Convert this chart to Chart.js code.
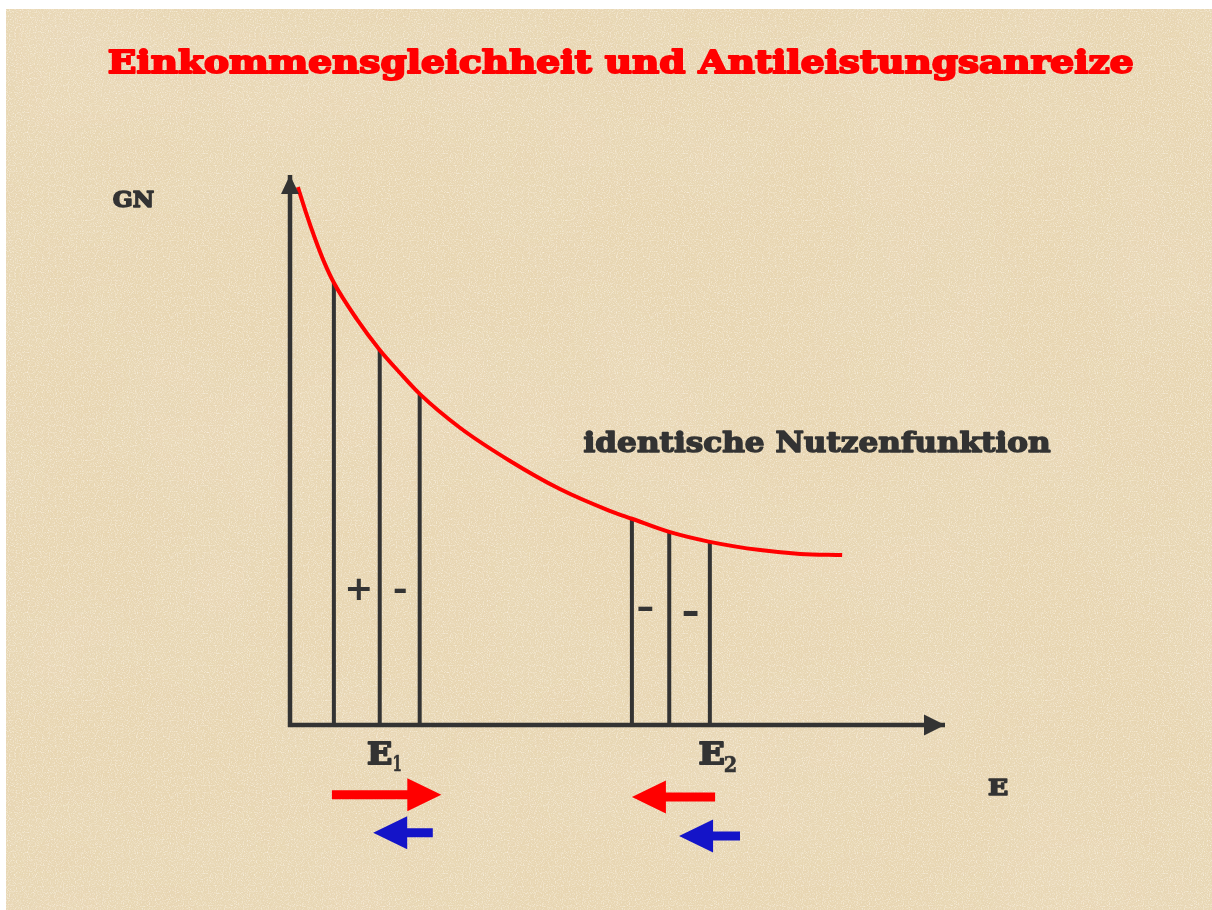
<!DOCTYPE html>
<html><head><meta charset="utf-8">
<script src="https://cdn.jsdelivr.net/npm/chart.js@4/dist/chart.umd.min.js"></script>
<style>
html,body{margin:0;padding:0;background:#fff;width:1212px;height:910px;overflow:hidden}
#bg{position:absolute;left:6px;top:9px;right:0;bottom:0;background-color:#e8d6b2;
background-image:
 url("data:image/svg+xml;utf8,<svg xmlns='http://www.w3.org/2000/svg' width='240' height='240'><filter id='n'><feTurbulence type='fractalNoise' baseFrequency='0.85' numOctaves='2' seed='3' stitchTiles='stitch'/><feColorMatrix values='0 0 0 0 1  0 0 0 0 0.96  0 0 0 0 0.88  1.6 0 0 0 -0.75'/></filter><rect width='240' height='240' filter='url(%23n)'/></svg>"),
 url("data:image/svg+xml;utf8,<svg xmlns='http://www.w3.org/2000/svg' width='240' height='240'><filter id='m'><feTurbulence type='fractalNoise' baseFrequency='0.7' numOctaves='2' seed='8' stitchTiles='stitch'/><feColorMatrix values='0 0 0 0 0.78  0 0 0 0 0.66  0 0 0 0 0.46  1.4 0 0 0 -0.7'/></filter><rect width='240' height='240' filter='url(%23m)'/></svg>"),
 url("data:image/svg+xml;utf8,<svg xmlns='http://www.w3.org/2000/svg' width='1206' height='901'><filter id='b'><feTurbulence type='fractalNoise' baseFrequency='0.006' numOctaves='3' seed='5'/><feColorMatrix values='0 0 0 0 0.82  0 0 0 0 0.7  0 0 0 0 0.5  1.2 0 0 0 -0.45'/></filter><rect width='1206' height='901' filter='url(%23b)'/></svg>");}
#c{position:absolute;left:0;top:0}
</style></head>
<body><div id="bg"></div><canvas id="c" width="1212" height="910"></canvas>
<script>
// ---- data (E = income on x axis, GN = marginal utility on y axis) ----
const curveE  = [1.2, 2.4, 3.8, 5.2, 6.7, 10.2, 13.7, 16.8, 19.8, 26.0, 33.6, 41.2, 48.9, 52.2, 57.9, 64.1, 71.8, 77.9, 84.3];
const curveGN = [97.8, 93.3, 88.5, 84.2, 80.4, 73.8, 68.2, 64.0, 60.2, 54.0, 48.0, 42.9, 38.9, 37.5, 35.1, 33.3, 31.8, 31.1, 30.9];
const stripE  = [6.7, 13.7, 19.8, 52.2, 57.9, 64.1];
const stripGN = [80.4, 68.2, 60.2, 37.5, 35.1, 33.3];
const signText = ['+', '-', '-', '-'];
const signE    = [10.5, 16.8, 54.2, 61.1];
const signGN   = [24.8, 24.5, 21.1, 20.5];
const arrowFromE = [6.4, 21.8, 64.9, 68.7];
const arrowToE   = [23.1, 12.7, 52.2, 59.4];
const arrowGN    = [-12.7, -19.6, -13.1, -20.2];
const arrowColors = ['#ff0000', '#1414c8', '#ff0000', '#1414c8'];
const titleText = 'Einkommensgleichheit und Antileistungsanreize';
const curveLabel = 'identische Nutzenfunktion';

const INK = '#333333';
const SERIF = '"DejaVu Serif", "Liberation Serif", serif';
const SANS = '"DejaVu Sans", "Liberation Sans", sans-serif';

// text labels placed in data units (ink left / baseline), with target ink widths
const labels = [
  {text:'GN', e:-27.2, gn:94.2, size:23, w:43, sw:1.6},
  {text:'E', e:106.6, gn:-12.7, size:23, w:20, sw:1.6},
  {text:'E', e:11.8, gn:-7.1, size:30, w:25, sw:1.8},
  {text:'1', e:15.8, gn:-8.4, size:22, w:8, sw:0.6},
  {text:'E', e:62.4, gn:-7.1, size:30, w:26, sw:1.8},
  {text:'2', e:66.3, gn:-8.5, size:22, w:12, sw:0.6},
  {text:curveLabel, e:44.7, gn:49.6, size:27, w:469, sw:1.5}
];
const signSize = [[22,23],[12,5],[15,5],[15,6]];

const datasets = [];
datasets.push({
  label:'Nutzenfunktion',
  data: curveE.map((e,i)=>({x:e, y:curveGN[i]})),
  borderColor:'#ff0000', borderWidth:4, pointRadius:0,
  cubicInterpolationMode:'monotone', clip:false, order:0
});
stripE.forEach((e,i)=>{
  datasets.push({
    label:'E'+i,
    data:[{x:e,y:0},{x:e,y:stripGN[i]}],
    borderColor:INK, borderWidth:4, pointRadius:0, clip:false, order:1
  });
});
datasets.push({
  label:'Achsen',
  data:[{x:0,y:100},{x:0,y:0},{x:100,y:0}],
  borderColor:INK, borderWidth:4.5, pointRadius:0, clip:false, order:1
});

function drawArrow(ctx, x1, x2, y, color, headLen, headH, shaft){
  const dir = Math.sign(x2 - x1);
  const base = x2 - dir*headLen;
  ctx.beginPath();
  ctx.moveTo(x1, y - shaft/2);
  ctx.lineTo(base, y - shaft/2);
  ctx.lineTo(base, y - headH/2);
  ctx.lineTo(x2, y);
  ctx.lineTo(base, y + headH/2);
  ctx.lineTo(base, y + shaft/2);
  ctx.lineTo(x1, y + shaft/2);
  ctx.closePath();
  ctx.fillStyle = color;
  ctx.fill();
}

function drawFitText(ctx, text, font, left, baseline, w, color, sw){
  ctx.font = font;
  ctx.textAlign = 'left';
  ctx.textBaseline = 'alphabetic';
  const m = ctx.measureText(text);
  const ink = m.actualBoundingBoxLeft + m.actualBoundingBoxRight;
  const sx = (w - sw) / ink;
  ctx.save();
  ctx.translate(left + sw/2, baseline);
  ctx.scale(sx, 1);
  ctx.fillStyle = color;
  ctx.strokeStyle = color;
  ctx.lineWidth = sw;
  ctx.lineJoin = 'round';
  ctx.fillText(text, m.actualBoundingBoxLeft, 0);
  if (sw > 0) ctx.strokeText(text, m.actualBoundingBoxLeft, 0);
  ctx.restore();
}

function drawCenterText(ctx, text, font, cx, cy, w, h, color){
  ctx.font = font;
  ctx.textAlign = 'left';
  ctx.textBaseline = 'alphabetic';
  const m = ctx.measureText(text);
  const L = m.actualBoundingBoxLeft, R = m.actualBoundingBoxRight;
  const A = m.actualBoundingBoxAscent, D = m.actualBoundingBoxDescent;
  ctx.save();
  ctx.translate(cx, cy);
  ctx.scale(w/(L+R), h/(A+D));
  ctx.fillStyle = color;
  ctx.fillText(text, -(R-L)/2, -(D-A)/2);
  ctx.restore();
}

const decor = {
  id:'decor',
  afterDatasetsDraw(chart){
    const ctx = chart.ctx, xs = chart.scales.x, ys = chart.scales.y;
    const X = v => xs.getPixelForValue(v), Y = v => ys.getPixelForValue(v);
    ctx.save();
    // axis arrowheads
    ctx.fillStyle = INK;
    const ox = X(0), ty = Y(100);
    ctx.beginPath(); ctx.moveTo(ox, ty); ctx.lineTo(ox-9, ty+19); ctx.lineTo(ox+9, ty+19); ctx.closePath(); ctx.fill();
    const tx = X(100), oy = Y(0);
    ctx.beginPath(); ctx.moveTo(tx, oy); ctx.lineTo(tx-21, oy-10.5); ctx.lineTo(tx-21, oy+10.5); ctx.closePath(); ctx.fill();
    // movement arrows
    arrowFromE.forEach((e,i)=>drawArrow(ctx, X(e), X(arrowToE[i]), Y(arrowGN[i]), arrowColors[i], 34, 33, 9));
    // signs in strips
    signText.forEach((s,i)=>drawCenterText(ctx, s, 'bold 30px '+SANS, X(signE[i]), Y(signGN[i]), signSize[i][0], signSize[i][1], INK));
    // labels
    labels.forEach(l=>drawFitText(ctx, l.text, 'bold '+l.size+'px '+SERIF, X(l.e), Y(l.gn), l.w, INK, l.sw));
    // title
    drawFitText(ctx, titleText, 'bold 32px '+SERIF, 108, 73, 1025, '#ff0000', 2);
    ctx.restore();
  }
};

new Chart(document.getElementById('c'), {
  type:'line',
  data:{datasets},
  options:{
    responsive:false, animation:false,
    layout:{padding:{left:290, right:267, top:175, bottom:185}},
    scales:{
      x:{type:'linear', min:0, max:100, display:false},
      y:{type:'linear', min:0, max:100, display:false}
    },
    plugins:{legend:{display:false}, tooltip:{enabled:false}, title:{display:false}}
  },
  plugins:[decor]
});
</script>
</body></html>
